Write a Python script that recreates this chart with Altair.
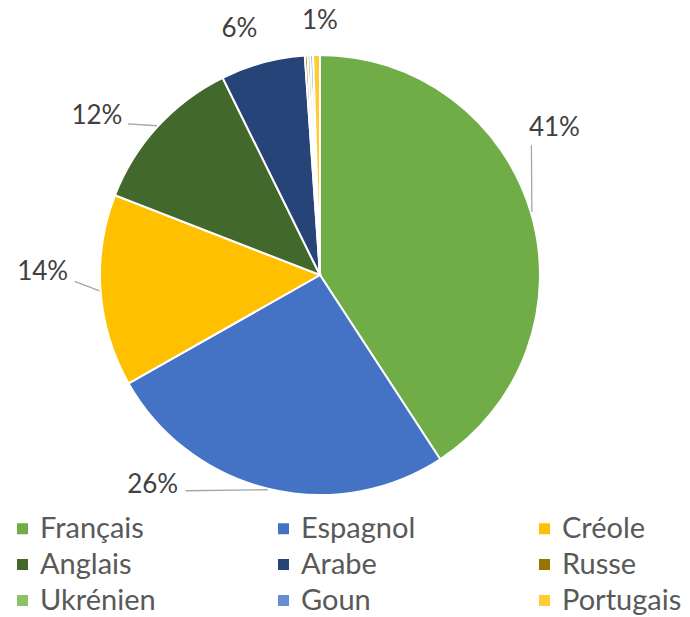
import math
import altair as alt
import pandas as pd

langues = ["Français", "Espagnol", "Créole", "Anglais", "Arabe",
           "Russe", "Ukrénien", "Goun", "Portugais"]
parts = [40.8, 26.0, 14.1, 11.8, 6.2, 0.2, 0.2, 0.2, 0.5]
couleurs = ["#70AD47", "#4472C4", "#FFC000", "#43682B", "#264478",
            "#997300", "#8CC168", "#698ED0", "#FFCD33"]

etiquettes = []
for p in parts:
    r = math.floor(p + 0.5)
    etiquettes.append(f"{r}%" if r >= 1 else "")

# layout constants
W, H = 624, 534
CX, CY = W / 2, H / 2
R_PIE = 220
R_LAB = 255

# label nudges (pixels) imitating the dragged data labels of the original
decalages = {
    "Français": (-10, -74),
    "Espagnol": (-107, -38),
    "Créole": (-23, -21),
    "Anglais": (-35, 13),
    "Arabe": (-14, 0),
    "Portugais": (4, 1),
}
# where each leader line meets its label, relative to the label centre
ancres = {
    "Français": (-23, 17),
    "Espagnol": (33, 6),
    "Créole": (32, 9),
    "Anglais": (31, 8),
}

df = pd.DataFrame({
    "langue": langues,
    "part": parts,
    "ordre": list(range(len(langues))),
    "etiquette": etiquettes,
})

pie = alt.Chart(df).mark_arc(outerRadius=R_PIE, stroke="white", strokeWidth=2).encode(
    theta=alt.Theta("part:Q", stack=True, scale=alt.Scale(domain=[0, 100])),
    order=alt.Order("ordre:Q"),
    color=alt.Color(
        "langue:N",
        scale=alt.Scale(domain=langues, range=couleurs),
        sort=langues,
        legend=alt.Legend(
            title=None,
            orient="none",
            legendX=0,
            legendY=506,
            direction="horizontal",
            columns=3,
            symbolType="square",
            symbolSize=121,
            symbolStrokeWidth=0,
            labelFontSize=29,
            labelFont="Lato",
            labelColor="#595959",
            labelOffset=3,
            columnPadding=109,
            rowPadding=6,
            gridAlign="all",
            padding=0,
            labelLimit=300,
        ),
    ),
)

base_lab = (
    alt.Chart(df)
    .transform_window(cumul="sum(part)", sort=[alt.SortField("ordre")], frame=[None, 0])
    .transform_calculate(milieu="datum.cumul - datum.part / 2")
)

couches = [pie]
for lg, (ddx, ddy) in decalages.items():
    if lg in ancres:
        ax, ay = ancres[lg]
        couches.append(
            base_lab.transform_filter(alt.datum.langue == lg)
            .transform_calculate(
                ang="datum.milieu / 100 * 2 * PI",
                x0=f"{CX} + {R_PIE + 1} * sin(datum.ang)",
                y0=f"{CY} - {R_PIE + 1} * cos(datum.ang)",
                x1=f"{CX} + {R_LAB} * sin(datum.ang) + {ddx + ax}",
                y1=f"{CY} - {R_LAB} * cos(datum.ang) + {ddy + ay}",
            )
            .mark_rule(color="#A6A6A6", strokeWidth=1.3)
            .encode(
                x=alt.X("x0:Q", scale=None, axis=None),
                y=alt.Y("y0:Q", scale=None, axis=None),
                x2="x1:Q",
                y2="y1:Q",
            )
        )
    couches.append(
        base_lab.transform_filter(alt.datum.langue == lg)
        .mark_text(radius=R_LAB, fontSize=26, font="Lato", color="#404040", dx=ddx, dy=ddy)
        .encode(
            theta=alt.Theta("milieu:Q", scale=alt.Scale(domain=[0, 100])),
            text="etiquette:N",
        )
    )

chart = (
    alt.layer(*couches)
    .properties(width=W, height=H, padding=0)
    .configure_view(stroke=None)
)

chart.save("out.html", embed_options={"renderer": "svg", "actions": False})
